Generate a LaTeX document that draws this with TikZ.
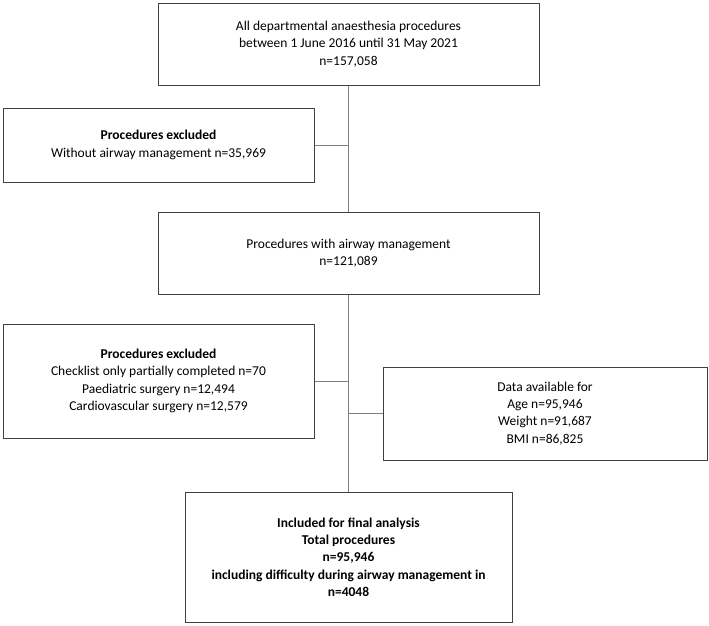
\documentclass[tikz,border=0pt]{standalone}
\usepackage{fontspec}
\setmainfont{Carlito}
\tikzset{
  flowbox/.style={draw=black!75, line width=1pt, inner sep=0pt, align=center,
    font=\fontsize{13.5}{17.3}\selectfont},
  link/.style={draw=black!50, line width=.9pt}
}
\begin{document}
\begin{tikzpicture}[x=1pt, y=-1pt]
	\useasboundingbox (0,0) rectangle (709,625);
	% boxes
	\node[flowbox, minimum width=381, minimum height=82] (all)     at (348.5,44)  {All departmental anaesthesia procedures\\between 1 June 2016 until 31 May 2021\\n=157,058};
	\node[flowbox, minimum width=311, minimum height=74] (excla)   at (158.5,145) {\textbf{Procedures excluded}\\Without airway management n=35,969};
	\node[flowbox, minimum width=381, minimum height=82] (airway)  at (348.5,253) {Procedures with airway management\\n=121,089};
	\node[flowbox, minimum width=311, minimum height=114] (exclb)  at (158.5,381) {\textbf{Procedures excluded}\\Checklist only partially completed n=70\\Paediatric surgery n=12,494\\Cardiovascular surgery n=12,579};
	\node[flowbox, minimum width=324, minimum height=93] (avail)   at (545,413.5) {Data available for\\Age n=95,946\\Weight n=91,687\\BMI n=86,825};
	\node[flowbox, minimum width=327, minimum height=130] (final)  at (348.5,557) {\textbf{Included for final analysis}\\\textbf{Total procedures}\\\textbf{n=95,946}\\\textbf{including difficulty during airway management in}\\\textbf{n=4048}};
	% connectors
	\draw[link] (all.south) -- (airway.north);
	\draw[link] (airway.south) -- (final.north);
	\draw[link] (excla.east) -- (excla.east -| all.south);
	\draw[link] (exclb.east) -- (exclb.east -| airway.south);
	\draw[link] (avail.west) -- (avail.west -| airway.south);
\end{tikzpicture}
\end{document}
